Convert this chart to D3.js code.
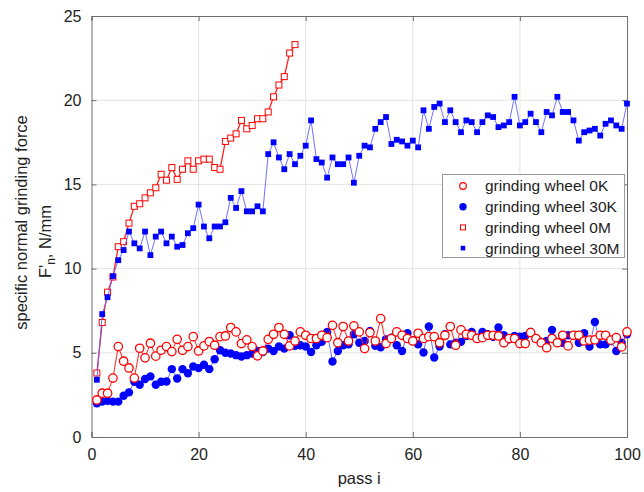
<!DOCTYPE html>
<html><head><meta charset="utf-8">
<script src="https://cdn.jsdelivr.net/npm/d3@7"></script>
<style>body{margin:0;background:#fff}svg{display:block}text{font-family:"Liberation Sans",Arial,sans-serif;fill:#222}</style>
</head><body><svg id="c" width="644" height="492"></svg>
<script>
const passes = d3.range(1, 101);
const series0K = [2.2,2.6,2.6,3.5,5.37,4.5,4.1,3.5,5.27,4.7,5.57,4.8,5.15,5.37,5.07,5.8,5.15,5.37,5.96,5.11,
  5.41,5.67,5.45,5.96,6.0,6.5,6.24,5.55,5.77,5.37,4.82,5.11,5.8,6.1,6.5,6.1,5.41,5.7,6.24,6.04,
  5.85,5.85,6.04,5.9,6.63,5.6,6.56,5.7,6.6,6.24,5.25,6.2,5.7,7.03,5.55,5.85,6.24,6.04,5.85,5.7,
  6.16,5.85,5.96,5.96,5.6,6.04,6.56,5.45,6.36,6.1,6.04,5.85,5.9,6.04,6.04,6.0,5.6,5.85,5.85,5.55,
  5.55,6.2,5.85,5.6,5.3,5.85,5.6,6.04,5.41,6.04,6.04,5.7,5.75,5.77,6.04,6.04,5.75,5.9,5.35,6.24];
const series30K = [2.0,2.1,2.15,2.1,2.1,2.45,2.65,3.28,3.1,3.44,3.6,3.1,3.28,3.3,4.03,3.47,4.03,3.79,4.19,4.09,
  4.29,4.03,4.62,5.15,5.0,4.96,4.86,4.78,4.86,4.96,5.11,5.05,5.25,5.1,5.37,5.25,6.04,5.41,5.45,5.37,
  5.05,5.45,5.65,6.24,4.48,5.11,5.45,5.5,6.1,5.6,5.7,6.3,5.41,5.33,5.8,5.9,5.45,5.11,6.16,5.75,
  5.5,5.02,6.56,4.72,5.37,6.1,5.5,5.6,5.65,6.0,6.24,5.9,6.24,6.1,5.95,6.5,6.04,5.8,6.0,5.96,
  6.0,6.24,5.85,5.65,5.7,6.36,5.6,5.6,6.04,6.04,5.6,6.16,5.37,6.83,5.5,5.5,5.7,5.11,5.6,6.1];
const series0M = [3.8,6.8,8.6,9.5,11.3,11.6,12.7,13.7,13.85,14.2,14.5,14.8,15.6,15.25,16.0,15.3,15.9,16.4,15.9,16.4,
  16.5,16.5,16.0,15.9,17.55,17.75,18.0,18.8,18.3,18.5,18.9,18.9,19.3,20.2,20.9,21.4,22.8,23.3];
const series30M = [3.4,7.3,8.3,9.55,10.5,11.1,12.2,11.5,11.2,12.2,10.8,11.9,12.2,11.5,11.9,11.3,11.4,12.1,12.4,13.8,
  12.5,11.8,12.5,12.5,12.75,14.2,13.6,14.6,13.4,13.4,13.7,13.4,16.8,17.5,16.6,15.9,16.8,16.2,16.7,17.3,
  18.8,16.5,16.3,15.4,16.6,16.2,16.2,16.6,15.1,16.7,17.3,17.2,18.3,18.7,19.0,17.4,17.65,17.55,17.3,17.6,
  17.2,19.4,18.3,19.6,19.8,18.7,19.4,18.7,18.1,18.8,18.7,18.1,18.7,19.1,19.0,18.4,18.5,18.7,20.2,18.5,
  18.7,19.2,18.7,18.1,19.3,19.1,20.2,19.3,19.3,18.8,17.6,18.1,18.2,18.3,17.9,18.6,18.8,18.5,18.3,19.8];
const xTicks = [0,20,40,60,80,100];
const yTicks = [0,5,10,15,20,25];
const legendLabels = ["grinding wheel 0K","grinding wheel 30K","grinding wheel 0M","grinding wheel 30M"];
const xTitle = "pass i";
const yTitle1 = "specific normal grinding force";

const svg = d3.select("#c");
const L = 91.5, R = 627, T = 16, B = 437;
const x = d3.scaleLinear().domain([0,100]).range([L,R]);
const y = d3.scaleLinear().domain([0,25]).range([B,T]);

// grid
const g = svg.append("g");
g.selectAll(".gx").data(xTicks.slice(1,-1)).join("line")
  .attr("x1",d=>x(d)).attr("x2",d=>x(d)).attr("y1",T).attr("y2",B)
  .attr("stroke","#e3e3e3").attr("stroke-width",1);
g.selectAll(".gy").data(yTicks.slice(1,-1)).join("line")
  .attr("y1",d=>y(d)).attr("y2",d=>y(d)).attr("x1",L).attr("x2",R)
  .attr("stroke","#e3e3e3").attr("stroke-width",1);

// axes
const axColor = "#6f6f6f";
const xAx = svg.append("g").attr("transform",`translate(0,${B})`)
  .call(d3.axisBottom(x).tickValues(xTicks).tickSize(-5).tickPadding(12));
const yAx = svg.append("g").attr("transform",`translate(${L},0)`)
  .call(d3.axisLeft(y).tickValues(yTicks).tickSize(-5).tickPadding(10));
svg.append("g").attr("transform",`translate(0,${T})`)
  .call(d3.axisTop(x).tickValues(xTicks).tickSize(-5).tickFormat(""));
svg.append("g").attr("transform",`translate(${R},0)`)
  .call(d3.axisRight(y).tickValues(yTicks).tickSize(-5).tickFormat(""));
svg.selectAll(".domain").attr("stroke",axColor);
svg.selectAll(".tick line").attr("stroke",axColor);
svg.selectAll(".tick text").attr("font-size",16).attr("fill","#222");
xAx.selectAll(".tick text").attr("dy","0.71em");

// titles
svg.append("text").attr("x",(L+R)/2).attr("y",484).attr("text-anchor","middle")
  .attr("font-size",16.5).text(xTitle);
svg.append("text").attr("transform","translate(27,222.5) rotate(-90)")
  .attr("text-anchor","middle").attr("font-size",16.5).text(yTitle1);
const t2 = svg.append("text").attr("transform","translate(51,241.5) rotate(-90)")
  .attr("text-anchor","middle").attr("font-size",16.5);
t2.append("tspan").text("F'");
t2.append("tspan").attr("font-size",12).attr("dy",4).text("n");
t2.append("tspan").attr("dy",-4).text(", N/mm");

const line = d3.line().x((d,i)=>x(passes[i])).y(d=>y(d));

// 30K
svg.append("path").datum(series30K).attr("d",line).attr("fill","none")
  .attr("stroke","#5a5aff").attr("stroke-width",0.9);
svg.append("g").selectAll("circle").data(series30K).join("circle")
  .attr("cx",(d,i)=>x(passes[i])).attr("cy",d=>y(d)).attr("r",4.2).attr("fill","#0000ff");
// 0K
svg.append("path").datum(series0K).attr("d",line).attr("fill","none")
  .attr("stroke","#ff2020").attr("stroke-width",1);
svg.append("g").selectAll("circle").data(series0K).join("circle")
  .attr("cx",(d,i)=>x(passes[i])).attr("cy",d=>y(d)).attr("r",4.2)
  .attr("fill","#fff").attr("stroke","#ff0000").attr("stroke-width",1.3);
// 0M
svg.append("path").datum(series0M).attr("d",line).attr("fill","none")
  .attr("stroke","#ff2020").attr("stroke-width",1.3);
svg.append("g").selectAll("rect").data(series0M).join("rect")
  .attr("x",(d,i)=>x(passes[i])-3).attr("y",d=>y(d)-3).attr("width",6).attr("height",6)
  .attr("fill","#fff").attr("stroke","#ff0000").attr("stroke-width",1);
// 30M
svg.append("path").datum(series30M).attr("d",line).attr("fill","none")
  .attr("stroke","#6060ff").attr("stroke-width",0.9);
svg.append("g").selectAll("rect").data(series30M).join("rect")
  .attr("x",(d,i)=>x(passes[i])-2.9).attr("y",d=>y(d)-2.9).attr("width",5.8).attr("height",5.8)
  .attr("fill","#0000ff");

// legend
const lg = svg.append("g");
lg.append("rect").attr("x",442.5).attr("y",174.5).attr("width",182).attr("height",83)
  .attr("fill","#fff").attr("stroke","#9a9a9a").attr("stroke-width",1);
const rowY = i => 186 + i*20.7;
const mx = 463;
lg.append("circle").attr("cx",mx).attr("cy",rowY(0)).attr("r",3.3).attr("fill","#fff").attr("stroke","#ff0000").attr("stroke-width",1.2);
lg.append("circle").attr("cx",mx).attr("cy",rowY(1)).attr("r",3.7).attr("fill","#0000ff");
lg.append("rect").attr("x",mx-2.5).attr("y",rowY(2)-2.5).attr("width",5).attr("height",5).attr("fill","#fff").attr("stroke","#ff0000").attr("stroke-width",1);
lg.append("rect").attr("x",mx-2.3).attr("y",rowY(3)-2.3).attr("width",4.6).attr("height",4.6).attr("fill","#0000ff");
lg.selectAll("text").data(legendLabels).join("text")
  .attr("x",485).attr("y",(d,i)=>rowY(i)).attr("dy","0.35em").attr("font-size",15.5).text(d=>d);
</script></body></html>
